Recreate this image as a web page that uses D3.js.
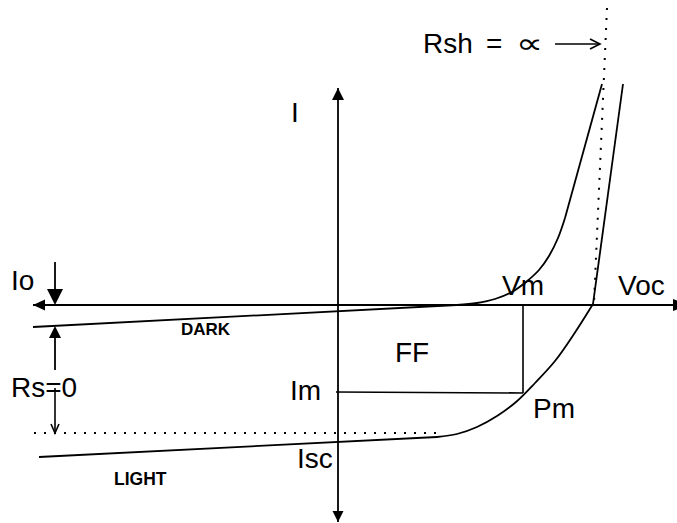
<!DOCTYPE html>
<html>
<head>
<meta charset="utf-8">
<script src="https://cdn.jsdelivr.net/npm/d3@7"></script>
<style>
  html, body { margin: 0; padding: 0; background: #fff; }
  svg { display: block; }
  text { font-family: "Liberation Sans", Arial, sans-serif; fill: #000; }
</style>
</head>
<body>
<script>
// ---- Data (voltage V, current I in arbitrary units) ----
const darkV  = [-3.05, 1.19, 1.39, 1.57, 1.74, 1.88, 2.01, 2.11, 2.20, 2.27, 2.64];
const darkI  = [-0.22, 0.00, 0.02, 0.06, 0.13, 0.23, 0.35, 0.49, 0.67, 0.87, 2.21];
const lightV = [-2.99, 0.99, 1.19, 1.39, 1.59, 1.78, 1.97, 2.17, 2.36, 2.55, 2.85];
const lightI = [-1.52, -1.32, -1.29, -1.22, -1.11, -0.97, -0.78, -0.56, -0.29, 0.01, 2.21];
const rshV   = [2.69, 2.56];
const rshI   = [2.97, 0.02];
const iscLevel = -1.28;
const iscV   = [-3.04, 0.99];
const vmValue = 1.85;
const imValue = -0.88;
const axisV  = [-3.05, 3.37];
const axisI  = [-2.17, 2.17];
const ioI    = [0.43, 0.0];
const rsI    = [-0.21, -1.28];

const W = 677, H = 523;
const svg = d3.select("body").append("svg").attr("width", W).attr("height", H);

const x = d3.scaleLinear().domain([-3.05, 3.37]).range([33, 675]);
const y = d3.scaleLinear().domain([-2.17, 2.17]).range([522, 88]);

const pts = (vs, is) => vs.map((v, k) => [v, is[k]]);
const lin = d3.line().x(d => x(d[0])).y(d => y(d[1]));
const smooth = d3.line().x(d => x(d[0])).y(d => y(d[1])).curve(d3.curveCatmullRom.alpha(0.5));

const g = svg.append("g");
const stroke = (sel, w) => sel.attr("fill", "none").attr("stroke", "#000").attr("stroke-width", w);

function arrowHead(tip, dir, len, hw) {
  const bx = tip[0] - dir[0] * len, by = tip[1] - dir[1] * len;
  const nx = -dir[1], ny = dir[0];
  g.append("path")
    .attr("d", `M${tip[0]},${tip[1]}L${bx + nx * hw},${by + ny * hw}L${bx - nx * hw},${by - ny * hw}Z`)
    .attr("fill", "#000");
}

// Axes
stroke(g.append("line").attr("x1", x(axisV[0])).attr("x2", x(axisV[1]))
  .attr("y1", y(0)).attr("y2", y(0)), 1.8);
stroke(g.append("line").attr("x1", x(0)).attr("x2", x(0))
  .attr("y1", y(axisI[1])).attr("y2", y(axisI[0])), 1.8);
arrowHead([x(axisV[0]), y(0)], [-1, 0], 12, 5.5);
arrowHead([x(axisV[1]) + 14, y(0)], [1, 0], 16, 6);
arrowHead([x(0), y(axisI[1])], [0, -1], 12, 6);
arrowHead([x(0), y(axisI[0])], [0, 1], 11, 5.5);

// Dark curve
const dark = pts(darkV, darkI);
stroke(g.append("path").attr("d", lin(dark.slice(0, 2))), 1.8);
stroke(g.append("path").attr("d", smooth(dark.slice(1, 10))), 1.8);
stroke(g.append("path").attr("d", lin(dark.slice(9))), 1.8);

// Light curve
const light = pts(lightV, lightI);
stroke(g.append("path").attr("d", lin(light.slice(0, 2))), 1.8);
stroke(g.append("path").attr("d", smooth(light.slice(1, 10))), 1.8);
stroke(g.append("path").attr("d", lin(light.slice(9))), 1.8);

// Rsh dotted line
stroke(g.append("path").attr("d", lin(pts(rshV, rshI))), 2)
  .attr("stroke-dasharray", "2,8");

// Isc dotted line
stroke(g.append("line").attr("x1", x(iscV[0])).attr("x2", x(iscV[1]))
  .attr("y1", y(iscLevel)).attr("y2", y(iscLevel)), 1.8)
  .attr("stroke-dasharray", "2,8");

// FF rectangle (Vm, Im)
stroke(g.append("line").attr("x1", x(vmValue)).attr("x2", x(vmValue))
  .attr("y1", y(0)).attr("y2", y(imValue)), 1.6);
stroke(g.append("line").attr("x1", x(-0.02)).attr("x2", x(vmValue))
  .attr("y1", y(imValue) - 1).attr("y2", y(imValue)), 1.6);

// Io arrow
const xa = x(-2.83);
stroke(g.append("line").attr("x1", xa).attr("x2", xa).attr("y1", y(ioI[0])).attr("y2", y(ioI[1]) - 10), 1.8);
arrowHead([xa, y(ioI[1])], [0, 1], 16, 8);

// Rs arrow
arrowHead([xa, y(rsI[0])], [0, -1], 12, 6);
stroke(g.append("line").attr("x1", xa).attr("x2", xa).attr("y1", y(rsI[0]) + 10).attr("y2", 370), 1.8);
stroke(g.append("line").attr("x1", xa).attr("x2", xa).attr("y1", 388).attr("y2", y(rsI[1])), 1.6);
stroke(g.append("path").attr("d", `M${xa - 4},${y(rsI[1]) - 9}L${xa},${y(rsI[1])}L${xa + 4},${y(rsI[1]) - 9}`), 1.6);

// Rsh arrow
const ay = y(2.61);
stroke(g.append("line").attr("x1", x(2.17)).attr("x2", x(2.62)).attr("y1", ay).attr("y2", ay), 1.6);
stroke(g.append("path").attr("d", `M${x(2.62) - 10},${ay - 5}L${x(2.62)},${ay}L${x(2.62) - 10},${ay + 5}`), 1.6);

// Labels
const labels = [
  ["I", -0.47, 1.83, 28, "normal", "Liberation Sans", 1],
  ["Io", -3.27, 0.15, 28, "normal", "Liberation Sans", 1],
  ["Rs=0", -3.27, -0.92, 28, "normal", "Liberation Sans", 1],
  ["Vm", 1.64, 0.10, 28, "normal", "Liberation Sans", 1],
  ["Voc", 2.80, 0.10, 28, "normal", "Liberation Sans", 1],
  ["FF", 0.57, -0.57, 28, "normal", "Liberation Sans", 1],
  ["Im", -0.48, -0.95, 28, "normal", "Liberation Sans", 1],
  ["Isc", -0.41, -1.63, 28, "normal", "Liberation Sans", 1],
  ["Pm", 1.95, -1.13, 28, "normal", "Liberation Sans", 1],
  ["Rsh", 0.85, 2.52, 28, "normal", "Liberation Sans", 1],
  ["=", 1.48, 2.52, 28, "normal", "Liberation Sans", 1],
  ["\u221D", 1.78, 2.52, 28, "normal", "DejaVu Sans", 1.35],
  ["DARK", -1.57, -0.30, 17, "bold", "Liberation Sans", 1],
  ["LIGHT", -2.24, -1.80, 17.5, "bold", "Liberation Sans", 1]
];
g.selectAll("text.lbl").data(labels).join("text")
  .attr("class", "lbl")
  .attr("transform", d => `translate(${x(d[1])},${y(d[2])}) scale(${d[6]},1)`)
  .attr("font-size", d => d[3])
  .attr("font-weight", d => d[4])
  .style("font-family", d => `"${d[5]}", sans-serif`)
  .text(d => d[0]);
</script>
</body>
</html>
